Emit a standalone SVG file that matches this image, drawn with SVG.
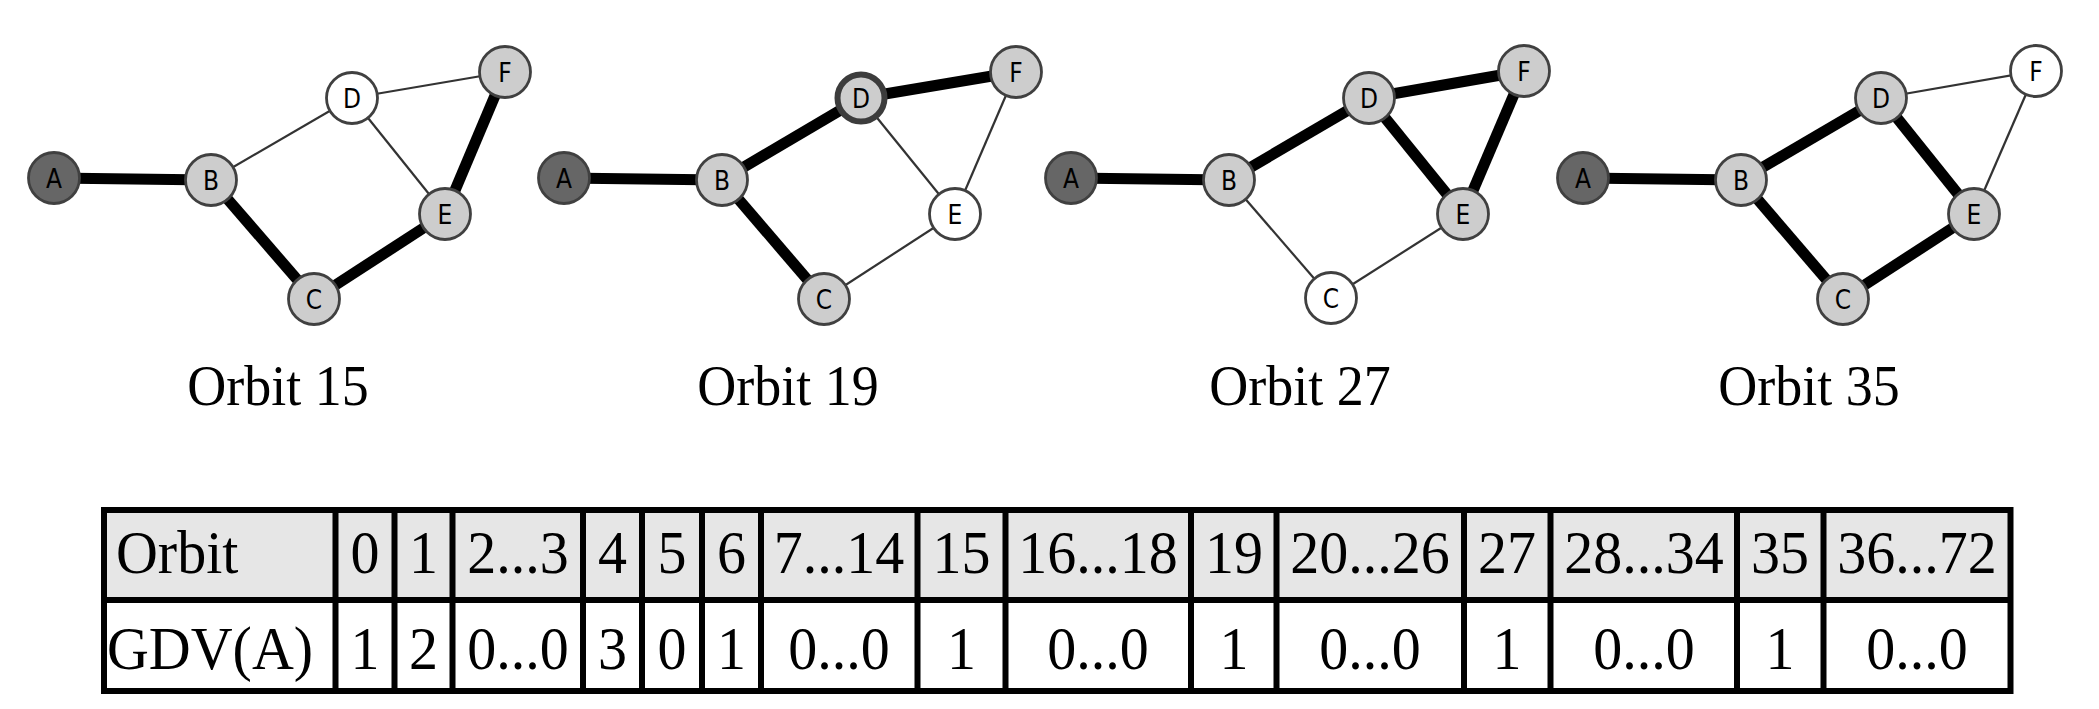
<svg xmlns="http://www.w3.org/2000/svg" width="2099" height="709" viewBox="0 0 2099 709">
<style>
.thick{stroke:#000;stroke-width:11;stroke-linecap:butt}
.thin{stroke:#333;stroke-width:2.2}
.n circle{stroke:#404040;stroke-width:2.8}
.dk{fill:#666}
.gy{fill:#cdcdcd}
.wh{fill:#fff}
.n text{font-family:"DejaVu Sans Condensed","DejaVu Sans",sans-serif;font-size:26px;text-anchor:middle;fill:#000}
.cap{font-family:"Liberation Serif",serif;font-size:54px;text-anchor:middle;fill:#000}
.tt{font-family:"Liberation Serif",serif;font-size:58px;text-anchor:middle;fill:#000}
.tl{font-family:"Liberation Serif",serif;font-size:58px;fill:#000}
.grid{stroke:#000;stroke-width:6;fill:none}
</style>
<rect width="2099" height="709" fill="#fff"/>
<g id="connectors">
<line class="thick" x1="54" y1="178" x2="211" y2="180"/>
<line class="thick" x1="211" y1="180" x2="314" y2="299"/>
<line class="thick" x1="314" y1="299" x2="445" y2="214"/>
<line class="thick" x1="445" y1="214" x2="505" y2="72"/>
<line class="thin" x1="211" y1="180" x2="352" y2="98"/>
<line class="thin" x1="352" y1="98" x2="505" y2="72"/>
<line class="thin" x1="352" y1="98" x2="445" y2="214"/>
<line class="thick" x1="564" y1="178" x2="722" y2="180"/>
<line class="thick" x1="722" y1="180" x2="861" y2="98"/>
<line class="thick" x1="861" y1="98" x2="1016" y2="72"/>
<line class="thick" x1="722" y1="180" x2="824" y2="299"/>
<line class="thin" x1="861" y1="98" x2="955" y2="214"/>
<line class="thin" x1="955" y1="214" x2="1016" y2="72"/>
<line class="thin" x1="824" y1="299" x2="955" y2="214"/>
<line class="thick" x1="1071" y1="178" x2="1229" y2="180"/>
<line class="thick" x1="1229" y1="180" x2="1369" y2="98"/>
<line class="thick" x1="1369" y1="98" x2="1524" y2="71"/>
<line class="thick" x1="1369" y1="98" x2="1463" y2="214"/>
<line class="thick" x1="1463" y1="214" x2="1524" y2="71"/>
<line class="thin" x1="1229" y1="180" x2="1331" y2="298"/>
<line class="thin" x1="1331" y1="298" x2="1463" y2="214"/>
<line class="thick" x1="1583" y1="178" x2="1741" y2="180"/>
<line class="thick" x1="1741" y1="180" x2="1881" y2="98"/>
<line class="thick" x1="1881" y1="98" x2="1974" y2="214"/>
<line class="thick" x1="1741" y1="180" x2="1843" y2="299"/>
<line class="thick" x1="1843" y1="299" x2="1974" y2="214"/>
<line class="thin" x1="1881" y1="98" x2="2036" y2="71"/>
<line class="thin" x1="1974" y1="214" x2="2036" y2="71"/>
</g>
<g id="g1-A" class="n"><circle class="dk" cx="54" cy="178" r="25.5"/><text x="54" y="187.5">A</text></g>
<g id="g1-B" class="n"><circle class="gy" cx="211" cy="180" r="25.5"/><text x="211" y="189.5">B</text></g>
<g id="g1-C" class="n"><circle class="gy" cx="314" cy="299" r="25.5"/><text x="314" y="308.5">C</text></g>
<g id="g1-D" class="n"><circle class="wh" cx="352" cy="98" r="25.5"/><text x="352" y="107.5">D</text></g>
<g id="g1-E" class="n"><circle class="gy" cx="445" cy="214" r="25.5"/><text x="445" y="223.5">E</text></g>
<g id="g1-F" class="n"><circle class="gy" cx="505" cy="72" r="25.5"/><text x="505" y="81.5">F</text></g>
<g id="g2-A" class="n"><circle class="dk" cx="564" cy="178" r="25.5"/><text x="564" y="187.5">A</text></g>
<g id="g2-B" class="n"><circle class="gy" cx="722" cy="180" r="25.5"/><text x="722" y="189.5">B</text></g>
<g id="g2-C" class="n"><circle class="gy" cx="824" cy="299" r="25.5"/><text x="824" y="308.5">C</text></g>
<g id="g2-D" class="n"><circle class="gy" cx="861" cy="98" r="23.5" style="stroke-width:6;stroke:#3c3c3c"/><text x="861" y="107.5">D</text></g>
<g id="g2-E" class="n"><circle class="wh" cx="955" cy="214" r="25.5"/><text x="955" y="223.5">E</text></g>
<g id="g2-F" class="n"><circle class="gy" cx="1016" cy="72" r="25.5"/><text x="1016" y="81.5">F</text></g>
<g id="g3-A" class="n"><circle class="dk" cx="1071" cy="178" r="25.5"/><text x="1071" y="187.5">A</text></g>
<g id="g3-B" class="n"><circle class="gy" cx="1229" cy="180" r="25.5"/><text x="1229" y="189.5">B</text></g>
<g id="g3-C" class="n"><circle class="wh" cx="1331" cy="298" r="25.5"/><text x="1331" y="307.5">C</text></g>
<g id="g3-D" class="n"><circle class="gy" cx="1369" cy="98" r="25.5"/><text x="1369" y="107.5">D</text></g>
<g id="g3-E" class="n"><circle class="gy" cx="1463" cy="214" r="25.5"/><text x="1463" y="223.5">E</text></g>
<g id="g3-F" class="n"><circle class="gy" cx="1524" cy="71" r="25.5"/><text x="1524" y="80.5">F</text></g>
<g id="g4-A" class="n"><circle class="dk" cx="1583" cy="178" r="25.5"/><text x="1583" y="187.5">A</text></g>
<g id="g4-B" class="n"><circle class="gy" cx="1741" cy="180" r="25.5"/><text x="1741" y="189.5">B</text></g>
<g id="g4-C" class="n"><circle class="gy" cx="1843" cy="299" r="25.5"/><text x="1843" y="308.5">C</text></g>
<g id="g4-D" class="n"><circle class="gy" cx="1881" cy="98" r="25.5"/><text x="1881" y="107.5">D</text></g>
<g id="g4-E" class="n"><circle class="gy" cx="1974" cy="214" r="25.5"/><text x="1974" y="223.5">E</text></g>
<g id="g4-F" class="n"><circle class="wh" cx="2036" cy="71" r="25.5"/><text x="2036" y="80.5">F</text></g>
<g id="captions">
<text class="cap" transform="translate(278,405) scale(1,1.06)">Orbit 15</text>
<text class="cap" transform="translate(788,405) scale(1,1.06)">Orbit 19</text>
<text class="cap" transform="translate(1300,405) scale(1,1.06)">Orbit 27</text>
<text class="cap" transform="translate(1809,405) scale(1,1.06)">Orbit 35</text>
</g>
<g id="table">
<rect x="104" y="510" width="1906.5" height="90" fill="#e6e6e6"/>
<rect x="104" y="600" width="1906.5" height="91" fill="#fff"/>
<rect class="grid" x="104" y="510" width="1906.5" height="181"/>
<path class="grid" d="M104 600H2010.5M335.5 510V691M394.5 510V691M452.5 510V691M583 510V691M642 510V691M702 510V691M761 510V691M917.5 510V691M1005.5 510V691M1191 510V691M1276.5 510V691M1464 510V691M1550.5 510V691M1737 510V691M1823.5 510V691"/>
<g transform="translate(0,573) scale(1,1.04)">
<text class="tl" x="116" y="0">Orbit</text>
<text class="tt" x="365" y="0">0</text>
<text class="tt" x="423.5" y="0">1</text>
<text class="tt" x="518" y="0">2...3</text>
<text class="tt" x="612.5" y="0">4</text>
<text class="tt" x="672" y="0">5</text>
<text class="tt" x="731.5" y="0">6</text>
<text class="tt" x="839" y="0">7...14</text>
<text class="tt" x="961.5" y="0">15</text>
<text class="tt" x="1098" y="0">16...18</text>
<text class="tt" x="1234" y="0">19</text>
<text class="tt" x="1370" y="0">20...26</text>
<text class="tt" x="1507" y="0">27</text>
<text class="tt" x="1644" y="0">28...34</text>
<text class="tt" x="1780" y="0">35</text>
<text class="tt" x="1917" y="0">36...72</text>
</g>
<g transform="translate(0,669) scale(1,1.04)">
<text class="tl" x="107" y="0">GDV(A)</text>
<text class="tt" x="365" y="0">1</text>
<text class="tt" x="423.5" y="0">2</text>
<text class="tt" x="518" y="0">0...0</text>
<text class="tt" x="612.5" y="0">3</text>
<text class="tt" x="672" y="0">0</text>
<text class="tt" x="731.5" y="0">1</text>
<text class="tt" x="839" y="0">0...0</text>
<text class="tt" x="961.5" y="0">1</text>
<text class="tt" x="1098" y="0">0...0</text>
<text class="tt" x="1234" y="0">1</text>
<text class="tt" x="1370" y="0">0...0</text>
<text class="tt" x="1507" y="0">1</text>
<text class="tt" x="1644" y="0">0...0</text>
<text class="tt" x="1780" y="0">1</text>
<text class="tt" x="1917" y="0">0...0</text>
</g>
</g>
</svg>
